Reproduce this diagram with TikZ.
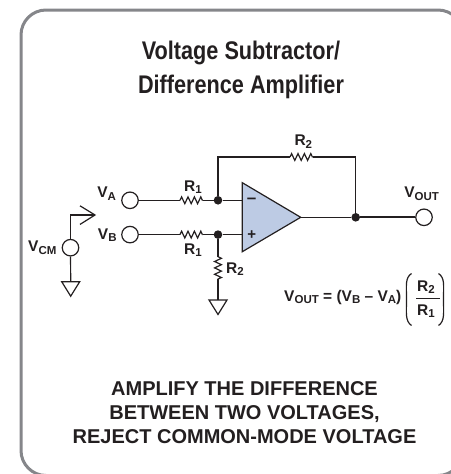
\documentclass[tikz,border=0pt]{standalone}
\usepackage{fontspec}
\setmainfont{Liberation Sans}
\newfontfamily\titlefont{Liberation Sans}[FakeStretch=0.85]
\usetikzlibrary{decorations.pathmorphing}
\definecolor{inkclr}{HTML}{231F20}
\definecolor{frameclr}{HTML}{85868A}
\definecolor{opampclr}{HTML}{BDCBE4}
\newcommand{\sbs}[1]{\raisebox{-2.6pt}{\fontsize{11.5}{12}\selectfont #1}}
\newcommand{\rowa}{200.3}
\newcommand{\rowb}{234.6}
\newcommand{\rowo}{217.3}
\newcommand{\coljn}{218}
\newcommand{\colfb}{355.7}
\newcommand{\gndsym}[1]{\draw[wire] (#1) ++(-9,0) -- ++(18,0) -- ++(-9,14.5) -- cycle;}
\tikzset{
  wire/.style={inkclr,line width=1.2pt,line join=miter},
  resistor/.style={wire,decorate,decoration={zigzag,segment length=6.4pt,amplitude=3.4pt}},
  port/.style={circle,draw=inkclr,line width=1.2pt,fill=white,minimum size=16.5pt,inner sep=0pt},
  junction/.style={circle,fill=inkclr,minimum size=8.6pt,inner sep=0pt},
  lbl/.style={inkclr,inner sep=0pt,font=\bfseries\fontsize{15.5}{18}\selectfont},
  headline/.style={inkclr,inner sep=0pt,align=center,font=\titlefont\bfseries\fontsize{25.5}{34}\selectfont},
  footline/.style={inkclr,inner sep=0pt,align=center,font=\bfseries\fontsize{20}{24}\selectfont}
}
\begin{document}
\begin{tikzpicture}[x=1pt,y=-1pt]
    \useasboundingbox (0,0) rectangle (450,474);
    \draw[frameclr,line width=3pt,rounded corners=25pt] (21,10) rectangle (463,475.5);

    \node[headline] (title) at (241,69.5) {Voltage Subtractor/\\Difference Amplifier};
    \node[footline] (foot) at (244.5,413) {AMPLIFY THE DIFFERENCE\\BETWEEN TWO VOLTAGES,\\REJECT COMMON-MODE VOLTAGE};

    % ports and junctions
    \node[port] (va) at (130,\rowa) {};
    \node[port] (vb) at (130,\rowb) {};
    \node[port] (vcm) at (70.5,247.7) {};
    \node[port] (vout) at (424,\rowo) {};
    \node[junction] (ja) at (\coljn,\rowa) {};
    \node[junction] (jb) at (\coljn,\rowb) {};
    \node[junction] (jo) at (\colfb,\rowo) {};

    % op amp
    \coordinate (optop) at (242.3,182.7);
    \coordinate (opbot) at (242.3,251.7);
    \coordinate (optip) at (300.7,\rowo);
    \draw[wire,fill=opampclr] (optop) -- (optip) -- (opbot) -- cycle;
    \node[lbl] (opminus) at (251.7,200.3) {\fontsize{17}{18}\selectfont –};
    \node[lbl] (opplus) at (251.7,234.6) {\fontsize{15}{18}\selectfont +};

    % resistors
    \coordinate (raa) at (180,\rowa);
    \coordinate (rab) at (202.7,\rowa);
    \coordinate (rba) at (180,\rowb);
    \coordinate (rbb) at (202.7,\rowb);
    \coordinate (rfa) at (290,157);
    \coordinate (rfb) at (312.7,157);
    \coordinate (rga) at (\coljn,256.7);
    \coordinate (rgb) at (\coljn,279.3);
    \draw[resistor] (raa) -- (rab);
    \draw[resistor] (rba) -- (rbb);
    \draw[resistor] (rfa) -- (rfb);
    \draw[resistor] (rga) -- (rgb);

    % wires
    \draw[wire] (va) -- (raa);
    \draw[wire] (rab) -- (ja);
    \draw[wire] (ja) -- (ja -| optop);
    \draw[wire] (vb) -- (rba);
    \draw[wire] (rbb) -- (jb);
    \draw[wire] (jb) -- (jb -| opbot);
    \draw[wire] (jb) -- (rga);
    \draw[wire] (ja) |- (rfa);
    \draw[wire] (rfb) -| (jo);
    \draw[wire] (optip) -- (jo);
    \draw[wire,line width=1.8pt] (jo) -- (vout);

    % grounds
    \coordinate (gnda) at (70.7,281.7);
    \coordinate (gndb) at (\coljn,300);
    \draw[wire] (vcm) -- (gnda);
    \draw[wire] (rgb) -- (gndb);
    \gndsym{gnda}
    \gndsym{gndb}

    % common-mode arrow
    \coordinate (cmhead) at (95,215);
    \draw[wire] (vcm) -- (vcm |- cmhead) -- (cmhead);
    \draw[wire] (80,205.8) -- (cmhead) -- (80,224.4);

    % labels
    \node[lbl] (lva) at (106.7,193.5) {V\sbs{A}};
    \node[lbl] (lvb) at (107.3,235) {V\sbs{B}};
    \node[lbl] (lvcm) at (42.3,248) {V\sbs{CM}};
    \node[lbl] (lvo) at (421.7,193.5) {V\sbs{OUT}};
    \node[lbl] (lra) at (193,187) {R\sbs{1}};
    \node[lbl] (lrb) at (193,250) {R\sbs{1}};
    \node[lbl] (lrf) at (303.3,141.7) {R\sbs{2}};
    \node[lbl] (lrg) at (235,269) {R\sbs{2}};

    % gain formula
    \node[lbl] (eqn) at (342.8,297) {V\sbs{OUT} = (V\sbs{B} – V\sbs{A})};
    \node[lbl] (eqnum) at (426,287) {R\sbs{2}};
    \node[lbl] (eqden) at (426,311) {R\sbs{1}};
    \draw[wire] (416,298.3) -- (439.5,298.3);
    \draw[wire] (411.5,273.5) .. controls (405,278) and (406.5,285) .. (406.5,299) .. controls (406.5,313) and (405,321) .. (411.5,325.5);
    \draw[wire] (438.5,273.5) .. controls (445,278) and (443.5,285) .. (443.5,299) .. controls (443.5,313) and (445,321) .. (438.5,325.5);
\end{tikzpicture}
\end{document}
